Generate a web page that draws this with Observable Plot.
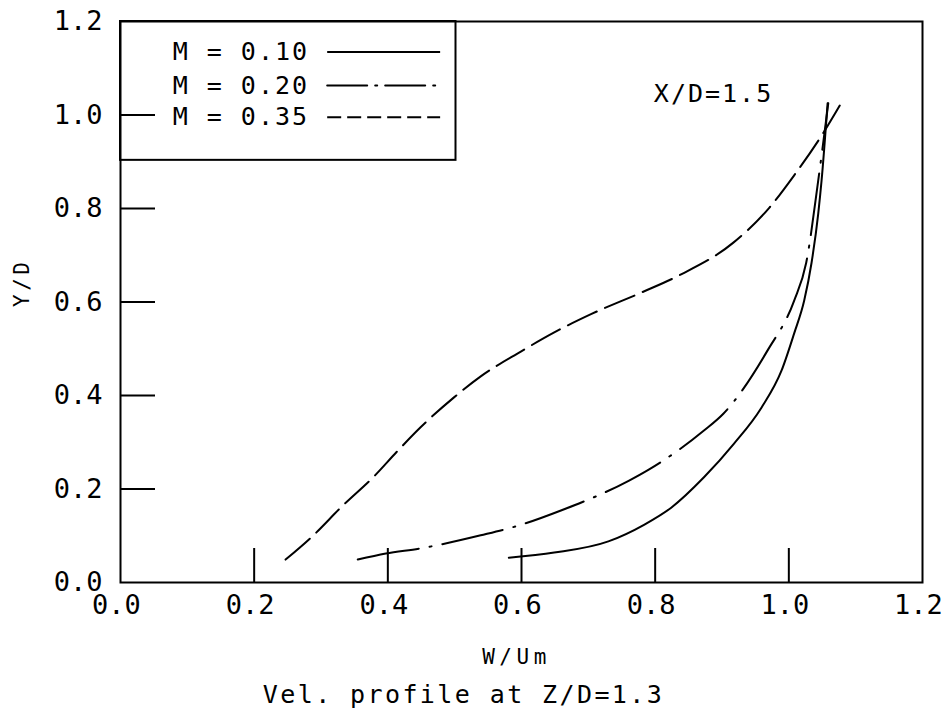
<!DOCTYPE html>
<html>
<head>
<meta charset="utf-8">
<script src="https://cdn.jsdelivr.net/npm/d3@7"></script>
<script src="https://cdn.jsdelivr.net/npm/@observablehq/plot@0.6"></script>
<style>
  html, body { margin: 0; padding: 0; background: #fff; }
  #chart svg { display: block; }
</style>
</head>
<body>
<div id="chart"></div>
<script>
// ---- data ----
const m10X = [0.581, 0.649, 0.730, 0.784, 0.824, 0.873, 0.918, 0.959, 0.989, 1.008, 1.023, 1.034, 1.044, 1.049, 1.058];
const m10Y = [0.053, 0.064, 0.088, 0.124, 0.160, 0.225, 0.297, 0.374, 0.453, 0.533, 0.603, 0.684, 0.789, 0.860, 1.025];

const m20X = [0.355, 0.397, 0.449, 0.539, 0.596, 0.659, 0.761, 0.791, 0.873, 0.902, 0.968, 1.008, 1.026, 1.044, 1.059];
const m20Y = [0.049, 0.062, 0.073, 0.101, 0.122, 0.154, 0.218, 0.242, 0.325, 0.361, 0.496, 0.603, 0.684, 0.860, 1.025];

const m35X = [0.247, 0.285, 0.333, 0.378, 0.415, 0.449, 0.499, 0.539, 0.599, 0.649, 0.704, 0.779, 0.836, 0.917, 0.971, 1.008, 1.049, 1.083];
const m35Y = [0.049, 0.096, 0.165, 0.225, 0.282, 0.332, 0.396, 0.441, 0.494, 0.535, 0.574, 0.620, 0.657, 0.727, 0.802, 0.871, 0.956, 1.037];

const seriesNames = ["M = 0.10", "M = 0.20", "M = 0.35"];
const xTicks = [0.0, 0.2, 0.4, 0.6, 0.8, 1.0, 1.2];
const yTicks = [0.0, 0.2, 0.4, 0.6, 0.8, 1.0, 1.2];
const innerXTicks = [0.2, 0.4, 0.6, 0.8, 1.0];
const innerYTicks = [0.2, 0.4, 0.6, 0.8, 1.0];
const xLabel = "W/Um";
const yLabel = "Y/D";
const caption = "Vel. profile at Z/D=1.3";
const annotation = "X/D=1.5";

// ---- build tables ----
const zip = (xs, ys) => xs.map((x, i) => ({x, y: ys[i]}));
const s10 = zip(m10X, m10Y);
const s20 = zip(m20X, m20Y);
const s35 = zip(m35X, m35Y);

const W = 950, H = 720;
const mL = 120, mR = 28, mT = 21, mB = 138;
const innerW = W - mL - mR, innerH = H - mT - mB;

const font = "DejaVu Sans Mono, monospace";

// legend layout (in data units of the frame)
const legendRows = [1.135, 1.063, 0.995];
const legend = seriesNames.map((name, i) => ({name, y: legendRows[i]}));
const dashes = ["none", "62,11,2,11", "32,9"];
const legendDashes = ["none", "40,8,2,8", "14,6"];
const curveType = "monotone-x";

const chart = Plot.plot({
  width: W,
  height: H,
  marginLeft: mL,
  marginRight: mR,
  marginTop: mT,
  marginBottom: mB,
  style: {fontFamily: font, background: "#fff", color: "#000"},
  x: {domain: [0, 1.2], label: null},
  y: {domain: [0, 1.2], label: null},
  marks: [
    // legend box
    Plot.rect([{x1: 0, x2: 0.502, y1: 0.903, y2: 1.2}], {x1: "x1", x2: "x2", y1: "y1", y2: "y2", fill: "white", stroke: "black", strokeWidth: 2}),
    // curves
    Plot.line(s10, {x: "x", y: "y", stroke: "black", strokeWidth: 2, curve: curveType}),
    Plot.line(s20, {x: "x", y: "y", stroke: "black", strokeWidth: 2, curve: curveType, strokeDasharray: dashes[1], strokeLinecap: "round"}),
    Plot.line(s35, {x: "x", y: "y", stroke: "black", strokeWidth: 2, curve: curveType, strokeDasharray: dashes[2]}),
    // inward ticks
    Plot.ruleY(innerYTicks, {y: d => d, stroke: "black", strokeWidth: 2, insetRight: innerW - 35}),
    Plot.ruleX(innerXTicks, {x: d => d, stroke: "black", strokeWidth: 2, insetTop: innerH - 34}),
    // tick labels
    Plot.axisX(xTicks, {tickSize: 0, tickPadding: 12, tickFormat: d3.format(".1f"), fontSize: 27, dx: -4, label: null}),
    Plot.axisY(yTicks, {tickSize: 0, tickPadding: 18, tickFormat: d3.format(".1f"), fontSize: 27, label: null}),
    // frame
    Plot.frame({stroke: "black", strokeWidth: 2}),
    // legend entries
    Plot.text(legend, {x: 0.078, y: "y", text: "name", textAnchor: "start", fontSize: 25, fill: "black"}),
    Plot.ruleY([legend[0]], {y: "y", x1: 0.31, x2: 0.479, stroke: "black", strokeWidth: 2}),
    Plot.ruleY([legend[1]], {y: "y", x1: 0.31, x2: 0.479, stroke: "black", strokeWidth: 2, strokeDasharray: legendDashes[1], strokeLinecap: "round"}),
    Plot.ruleY([legend[2]], {y: "y", x1: 0.31, x2: 0.479, stroke: "black", strokeWidth: 2, strokeDasharray: legendDashes[2]}),
    // annotation
    Plot.text([annotation], {x: 0.798, y: 1.044, text: d => d, textAnchor: "start", fontSize: 25, fill: "black"}),
    // axis labels & caption
    Plot.text([xLabel], {frameAnchor: "bottom", dy: 81, dx: -5, text: d => d, fontSize: 21, fill: "black"}),
    Plot.text([caption], {frameAnchor: "bottom", dy: 120, dx: -58, text: d => d, fontSize: 25, fill: "black"}),
    Plot.text([yLabel], {frameAnchor: "left", dx: -98, dy: 5, rotate: -90, text: d => d, fontSize: 21, fill: "black"})
  ]
});

// plotter-like letter spacing for the labels
const spacing = new Map([
  [seriesNames[0], 2], [seriesNames[1], 2], [seriesNames[2], 2],
  [caption, 2.4], [annotation, 2], [xLabel, 4.5], [yLabel, 3.5]
]);
d3.select(chart).selectAll("text").each(function() {
  const s = spacing.get(this.textContent);
  if (s != null) this.setAttribute("letter-spacing", s);
});
document.getElementById("chart").appendChild(chart);
</script>
</body>
</html>
